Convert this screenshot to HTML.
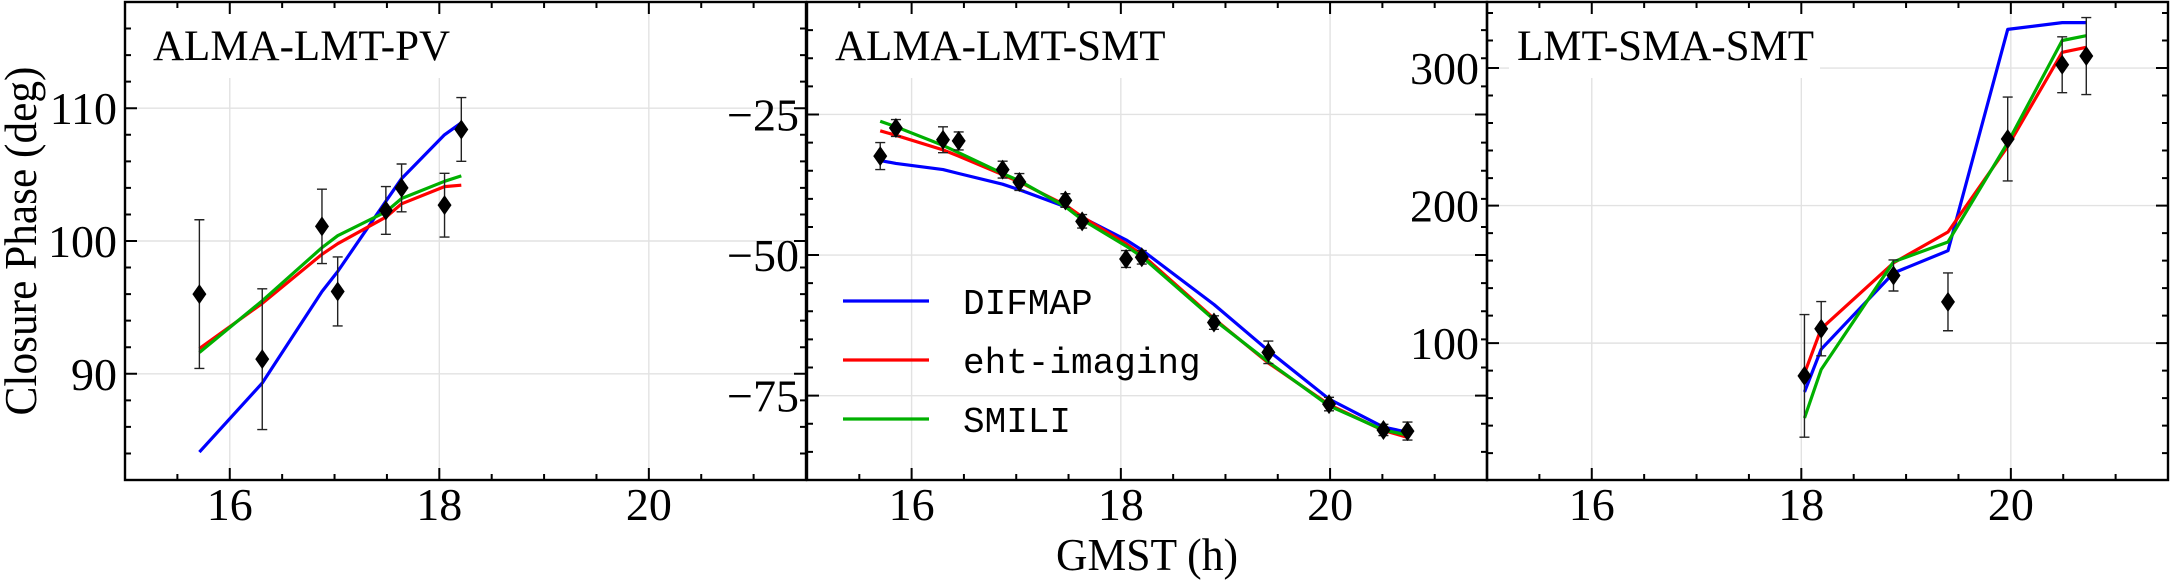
<!DOCTYPE html>
<html><head><meta charset="utf-8">
<style>
html,body{margin:0;padding:0;background:#fff;}
svg{display:block;}
text{font-family:"Liberation Serif",serif;fill:#000;}
.mono{font-family:"Liberation Mono",monospace;}
</style></head>
<body>
<svg id="fig" width="2170" height="582" viewBox="0 0 2170 582" xmlns="http://www.w3.org/2000/svg">
<rect width="2170" height="582" fill="#fff"/>
<text transform="translate(36,241) rotate(-90)" text-anchor="middle" font-size="46" textLength="349" lengthAdjust="spacingAndGlyphs">Closure Phase (deg)</text>
<text x="1147" y="570" text-anchor="middle" font-size="46" textLength="182" lengthAdjust="spacingAndGlyphs">GMST (h)</text>
</svg>
<script>
// ---- Panel 1: ALMA-LMT-PV ----
const p1Times = [15.71, 16.31, 16.88, 17.03, 17.49, 17.64, 18.05, 18.21];
const p1Obs = [96.0, 91.1, 101.1, 96.2, 102.3, 104.0, 102.7, 108.4];
const p1Err = [5.6, 5.3, 2.8, 2.6, 1.8, 1.8, 2.4, 2.4];
const p1Difmap = [84.1, 89.3, 96.2, 97.7, 103.0, 104.7, 108.0, 108.9];
const p1Eht = [91.9, 95.3, 99.0, 99.8, 101.8, 102.8, 104.1, 104.2];
const p1Smili = [91.6, 95.5, 99.5, 100.4, 102.2, 103.2, 104.5, 104.9];
const p1Ticks = [90, 100, 110];
// ---- Panel 2: ALMA-LMT-SMT ----
const p2Times = [15.70, 15.85, 16.30, 16.45, 16.87, 17.03, 17.47, 17.63, 18.05, 18.20, 18.89, 19.41, 19.99, 20.51, 20.74];
const p2Obs = [-32.4, -27.4, -29.5, -29.7, -34.8, -37.0, -40.3, -44.0, -50.7, -50.4, -62.0, -67.3, -76.5, -81.1, -81.3];
const p2Err = [2.4, 1.5, 2.3, 1.6, 1.5, 1.5, 1.2, 1.2, 1.5, 1.2, 1.2, 2.0, 1.2, 1.0, 1.6];
const p2Difmap = [-33.2, -33.7, -34.8, -35.5, -37.4, -38.4, -41.4, -43.3, -47.3, -49.1, -58.8, -67.0, -75.6, -80.6, -81.5];
const p2Eht = [-27.9, -28.7, -31.3, -32.4, -35.7, -37.0, -41.1, -43.2, -48.0, -49.9, -61.3, -69.2, -76.6, -81.2, -82.4];
const p2Smili = [-26.2, -27.2, -30.5, -31.8, -35.5, -36.8, -41.4, -43.7, -48.4, -50.3, -61.5, -69.0, -76.8, -81.1, -82.0];
const p2Ticks = [-75, -50, -25];
// ---- Panel 3: LMT-SMA-SMT ----
const p3Times = [18.03, 18.19, 18.88, 19.40, 19.97, 20.49, 20.72];
const p3Obs = [76.2, 110.5, 149.2, 130.0, 248.4, 302.4, 308.7];
const p3Err = [44.6, 19.7, 11.3, 21.0, 30.5, 20.3, 28.0];
const p3Difmap = [64.5, 95.6, 151.0, 167.2, 328.1, 333.0, 333.0];
const p3Eht = [78.1, 110.5, 158.3, 180.8, 243.0, 311.4, 315.1];
const p3Smili = [45.6, 80.8, 159.1, 173.5, 245.7, 320.0, 323.5];
const p3Ticks = [100, 200, 300];
const xTicks = [16, 18, 20];

const NS = 'http://www.w3.org/2000/svg';
const svg = document.getElementById('fig');
function mk(tag, attrs, parent) {
  const e = document.createElementNS(NS, tag);
  for (const k in attrs) e.setAttribute(k, attrs[k]);
  (parent || svg).appendChild(e);
  return e;
}
const TOP = 2, BOT = 480;
const panels = [
  {name:'alma-lmt-pv', title:'ALMA-LMT-PV', L:125, R:806, ymin:82, ymax:118, minor:2, t:p1Times, o:p1Obs, e:p1Err, d:p1Difmap, h:p1Eht, s:p1Smili, ticks:p1Ticks, tx:153, bw:315},
  {name:'alma-lmt-smt', title:'ALMA-LMT-SMT', L:807, R:1487, ymin:-90, ymax:-5, minor:5, t:p2Times, o:p2Obs, e:p2Err, d:p2Difmap, h:p2Eht, s:p2Smili, ticks:p2Ticks, tx:835, bw:340},
  {name:'lmt-sma-smt', title:'LMT-SMA-SMT', L:1487, R:2168, ymin:0.5, ymax:348, minor:20, t:p3Times, o:p3Obs, e:p3Err, d:p3Difmap, h:p3Eht, s:p3Smili, ticks:p3Ticks, tx:1517, bw:311}
];
const XMIN = 15, XMAX = 21.5;
panels.forEach((p, pi) => {
  const g = mk('g', {});
  
  
  const sx = v => p.L + (v - XMIN) / (XMAX - XMIN) * (p.R - p.L);
  const sy = v => BOT - (v - p.ymin) / (p.ymax - p.ymin) * (BOT - TOP);
  xTicks.forEach(v => {
    const l = mk('line', {x1:sx(v), x2:sx(v), y1:TOP, y2:BOT, stroke:'#e2e2e2', 'stroke-width':1.4}, g);
    
    
  });
  p.ticks.forEach(v => {
    const l = mk('line', {x1:p.L, x2:p.R, y1:sy(v), y2:sy(v), stroke:'#e2e2e2', 'stroke-width':1.4}, g);
    
    
  });
  const tb = mk('rect', {x:p.tx - 8, y:14, width:p.bw, height:64, fill:'#fff'}, g);
  
  
  const tt = mk('text', {x:p.tx, y:60, 'font-size':43}, g);
  tt.textContent = p.title;
  
  
  const series = [[p.d, '#0000ff', 'difmap-line'], [p.h, '#ff0000', 'eht-imaging-line'], [p.s, '#00b000', 'smili-line']];
  series.forEach(([arr, col, nm]) => {
    const pts = arr.map((v, i) => sx(p.t[i]).toFixed(1) + ',' + sy(v).toFixed(1)).join(' ');
    const pl = mk('polyline', {points:pts, fill:'none', stroke:col, 'stroke-width':3.2, 'stroke-linejoin':'round'}, g);
    
    
  });
  p.o.forEach((v, i) => {
    const x = sx(p.t[i]), y1 = sy(v + p.e[i]), y2 = sy(v - p.e[i]);
    const eb = mk('path', {d:`M${x},${y1}V${y2}M${x-5},${y1}H${x+5}M${x-5},${y2}H${x+5}`, stroke:'#222', 'stroke-width':1.4, fill:'none'}, g);
    
    
    const y = sy(v);
    const dm = mk('path', {d:`M${x},${y-10}L${x+7},${y}L${x},${y+10}L${x-7},${y}Z`, fill:'#000'}, g);
    
    
  });
  let tk = '';
  for (let v = 15; v <= 21.5001; v += 0.5) {
    const len = (Math.abs(v - Math.round(v / 2) * 2) < 1e-6) ? 12 : 6;
    const x = sx(v);
    tk += `M${x},${BOT}v${-len}M${x},${TOP}v${len}`;
  }
  const start = Math.ceil(p.ymin / p.minor) * p.minor;
  for (let v = start; v <= p.ymax; v += p.minor) {
    const isMaj = p.ticks.some(t => Math.abs(t - v) < 1e-6);
    const len = isMaj ? 12 : 6;
    const y = sy(v);
    tk += `M${p.L},${y}h${len}M${p.R},${y}h${-len}`;
  }
  const tp = mk('path', {d:tk, stroke:'#000', 'stroke-width':2, fill:'none'}, g);
  
  
  const fr = mk('rect', {x:p.L, y:TOP, width:p.R - p.L, height:BOT - TOP, fill:'none', stroke:'#000', 'stroke-width':2.4}, g);
  
  
  xTicks.forEach(v => {
    const t = mk('text', {x:sx(v), y:520, 'text-anchor':'middle', 'font-size':46}, g);
    t.textContent = String(v);
    
    
  });
  p.ticks.forEach(v => {
    const t = mk('text', {x:p.L - 8, y:sy(v) + 16, 'text-anchor':'end', 'font-size':46}, g);
    t.textContent = v < 0 ? '\u2212' + Math.abs(v) : String(v);
    
    
  });
});
const legendNames = ['DIFMAP', 'eht-imaging', 'SMILI'];
const legendColors = ['#0000ff', '#ff0000', '#00b000'];
const lg = mk('g', {});


legendNames.forEach((n, i) => {
  const y = 301 + i * 59;
  const ln = mk('line', {x1:843, x2:929, y1:y, y2:y, stroke:legendColors[i], 'stroke-width':3.2}, lg);
  
  
  const t = mk('text', {x:963, y:y + 13, 'font-size':36, class:'mono'}, lg);
  t.textContent = n;
  
  
});
</script>
</body></html>
